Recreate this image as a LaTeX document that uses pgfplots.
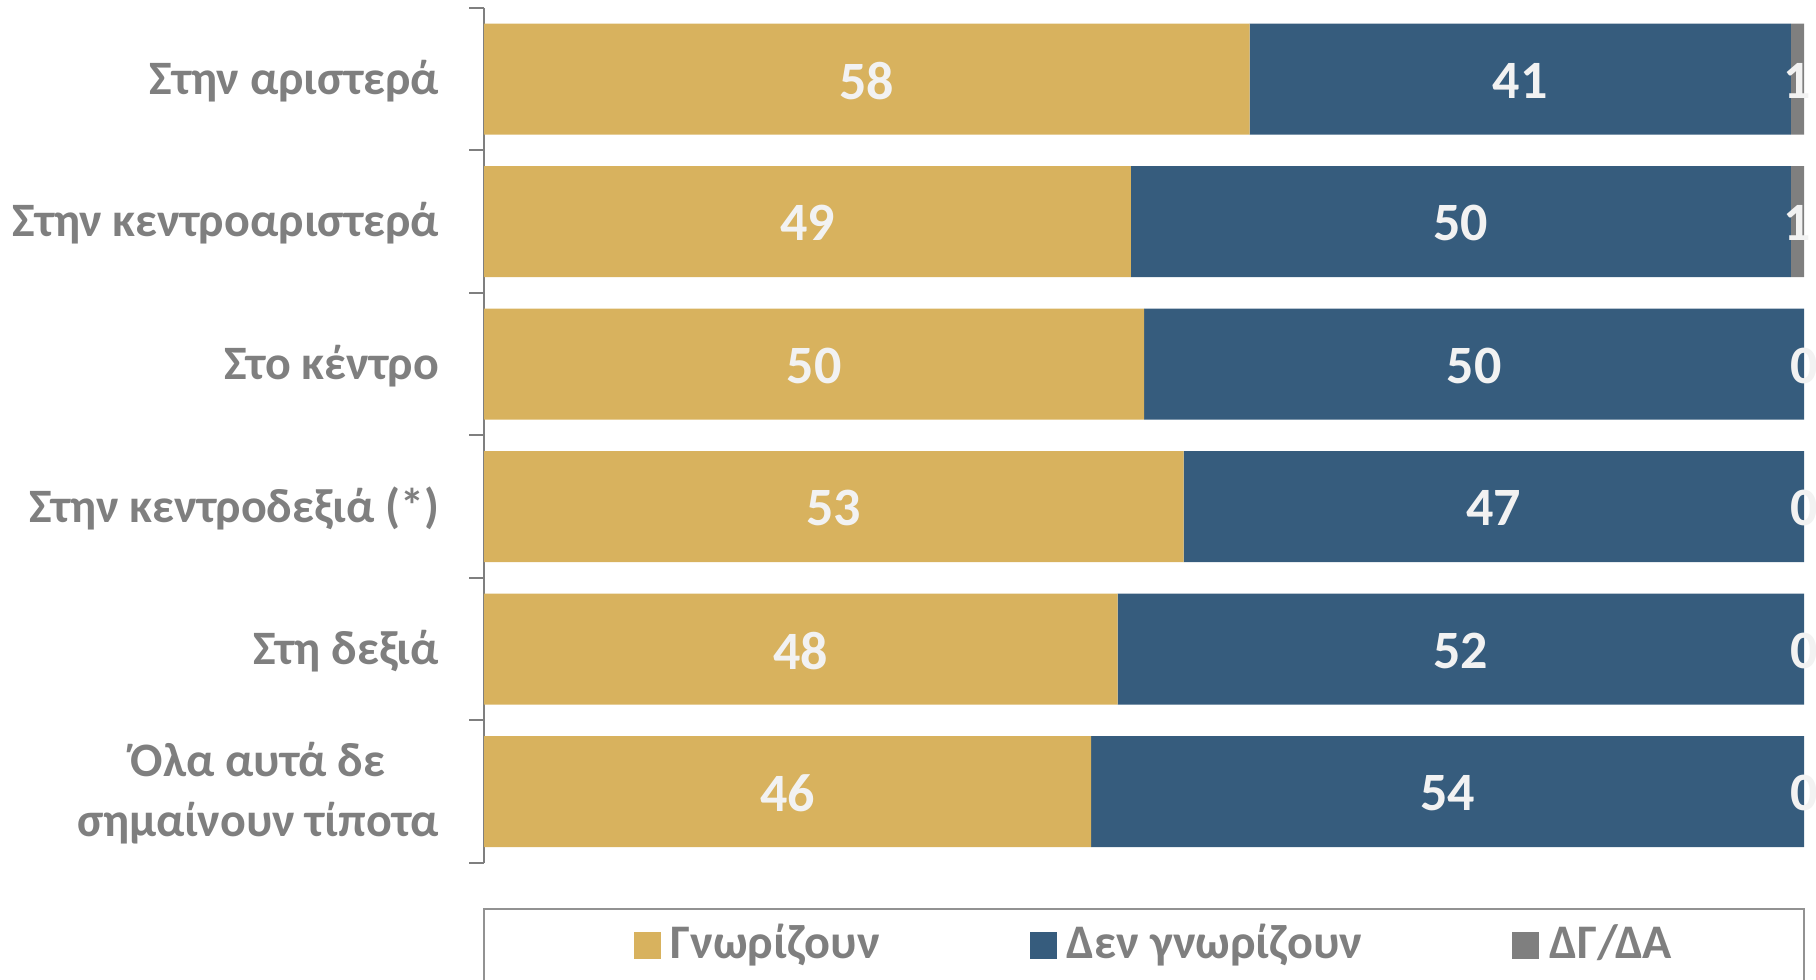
\documentclass[border=0pt]{standalone}
\usepackage{pgfplots}
\pgfplotsset{compat=1.18}
\usepackage{fontspec}
\setmainfont{Carlito}
\definecolor{cgold}{RGB}{216,178,94}
\definecolor{cblue}{RGB}{54,92,125}
\definecolor{cgrey}{RGB}{127,127,127}
\definecolor{ctext}{RGB}{127,127,127}
\definecolor{clab}{RGB}{242,242,242}
\begin{document}
\begin{tikzpicture}
\begin{axis}[
  name=ax,
  scale only axis,
  width=264pt, height=171pt,
  xbar stacked,
  bar width=22.2pt,
  xmin=0, xmax=100,
  ymin=-0.5, ymax=5.5,
  y dir=reverse,
  axis y line*=left,
  axis x line=none,
  y axis line style={draw=cgrey, line width=0.4pt},
  ytick={0,...,5},
  yticklabels={Στην αριστερά, Στην κεντροαριστερά, Στο κέντρο, Στην κεντροδεξιά (*), Στη δεξιά, {Όλα αυτά δε\\σημαίνουν τίποτα}},
  ytick pos=left,
  major tick length=0pt,
  minor ytick={-0.5,0.5,1.5,2.5,3.5,4.5,5.5},
  minor tick length=3pt,
  tick align=outside,
  tick style={draw=cgrey, line width=0.4pt},
  yticklabel style={font=\fontsize{9.6}{12.1}\selectfont\bfseries, text=ctext, align=center, inner sep=0pt, xshift=-8.8pt, yshift=-0.3pt},
  clip=false,
  legend columns=3,
  legend style={draw=none, fill=none, at={(0.5105,-0.096)}, anchor=center, font=\fontsize{9.65}{11}\selectfont\bfseries, text=ctext, /tikz/every even column/.append style={column sep=28pt}},
  legend image code/.code={\fill[#1,draw=none] (0pt,-2.7pt) rectangle (5.4pt,2.7pt);},
]
\addplot[fill=cgold, draw=none] coordinates {(58,0) (49,1) (50,2) (53,3) (48,4) (46,5)};
\addplot[fill=cblue, draw=none] coordinates {(41,0) (50,1) (50,2) (47,3) (52,4) (54,5)};
\addplot[fill=cgrey, draw=none] coordinates {(1,0) (1,1) (0,2) (0,3) (0,4) (0,5)};
\legend{Γνωρίζουν\hspace{0.6pt}, Δεν γνωρίζουν\hspace{0.6pt}, ΔΓ/ΔΑ}
\draw[cgrey!85, line width=0.4pt] (axis description cs:0,-0.0538) rectangle (axis description cs:1,-0.3);
\end{axis}
\begin{axis}[
  scale only axis,
  width=264pt, height=171pt,
  xmin=0, xmax=100,
  ymin=-0.5, ymax=5.5,
  y dir=reverse,
  hide axis,
  clip=false,
  nodes near coords,
  point meta=explicit symbolic,
  every node near coord/.append style={anchor=center, inner sep=0pt, yshift=-0.3pt, font=\fontsize{10.8}{12}\selectfont\bfseries, text=clab},
]
\addplot[draw=none, mark=none, nodes near coords] table[meta=lab] {
x y lab
29 0 58
24.5 1 49
25 2 50
26.5 3 53
24 4 48
23 5 46
};
\addplot[draw=none, mark=none, nodes near coords] table[meta=lab] {
x y lab
78.5 0 41
74 1 50
75 2 50
76.5 3 47
74 4 52
73 5 54
};
\addplot[draw=none, mark=none, nodes near coords] table[meta=lab] {
x y lab
99.5 0 1
99.5 1 1
100 2 0
100 3 0
100 4 0
100 5 0
};
\end{axis}
\pgfresetboundingbox
\path[use as bounding box] ([xshift=-96.8pt,yshift=-23.4pt]ax.south west) rectangle ([xshift=2.4pt,yshift=1.6pt]ax.north east);
\end{tikzpicture}
\end{document}
